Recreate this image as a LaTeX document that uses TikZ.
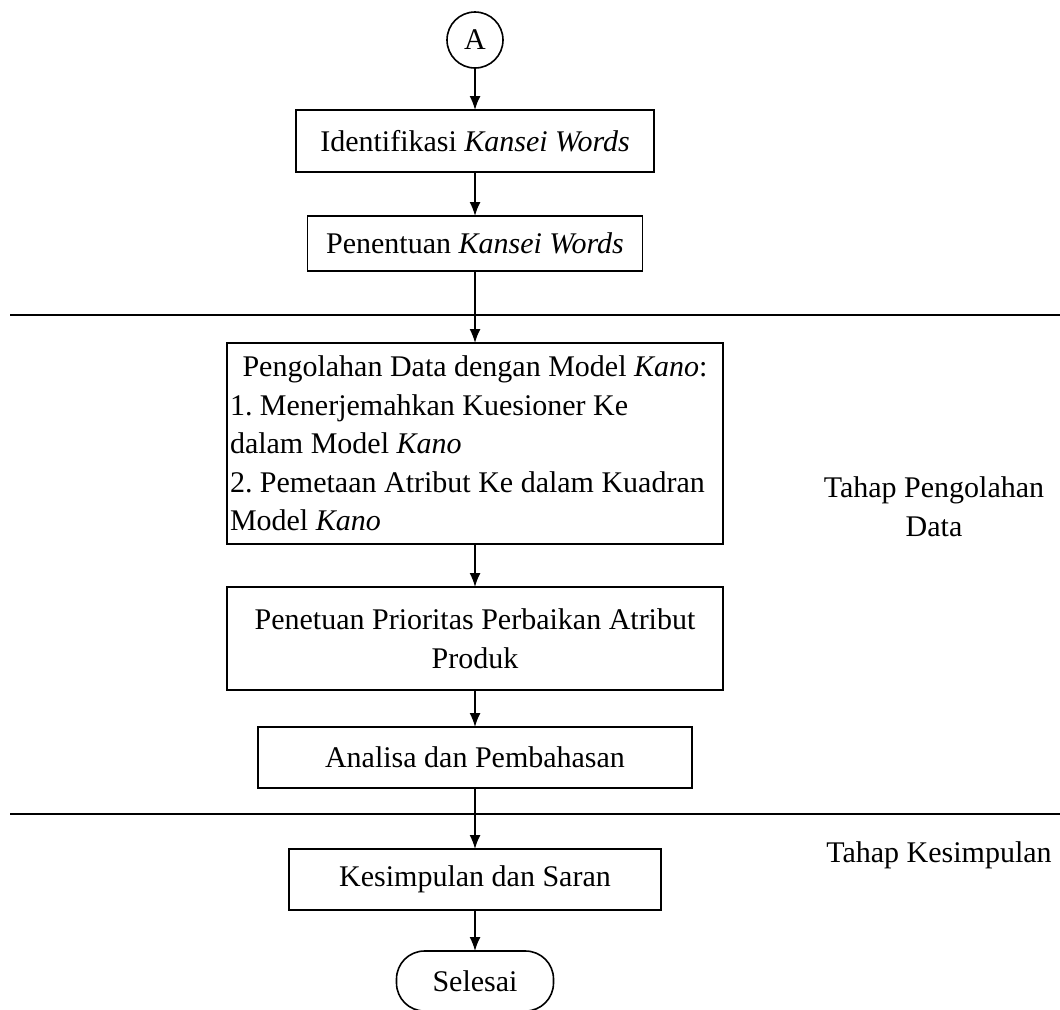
\documentclass[tikz,border=0pt]{standalone}
\usepackage{fontspec}
\setmainfont{Liberation Serif}
\usepackage{tikz}
\usetikzlibrary{positioning,arrows.meta}
\tikzset{main box/.style={rectangle,draw,line width=0.8pt,inner sep=2.5pt,outer sep=0pt,align=center},
	conn node/.style={circle,draw,line width=0.8pt,minimum size=28pt,inner sep=0pt,outer sep=0pt},
	end node/.style={rectangle,rounded corners=14pt,draw,line width=0.8pt,minimum width=78.5pt,minimum height=30pt,inner sep=0pt,outer sep=0pt},
	phase line/.style={line width=1.1pt},
	phase label/.style={align=center},
}

\begin{document}
\begin{tikzpicture}[font=\fontsize{15}{19.3}\selectfont\frenchspacing,>={Latex[length=7pt,width=5.5pt]}]
				\useasboundingbox (0,0) rectangle (530pt,-504.5pt);
				\node[conn node] (conA) at (237.5pt,-20pt) {A};
				\node[main box,minimum width=179pt,minimum height=31pt] (identifikasi) [below =21pt of conA] {Identifikasi \textit{Kansei Words}};
				\node[main box,minimum width=167.5pt,minimum height=27.5pt] (penentuan) [below =22pt of identifikasi] {Penentuan \textit{Kansei Words}};
				\node[main box,inner xsep=1.5pt,text width=245pt,minimum height=100.5pt,align=flush left] (pengolahan) [below =36pt of penentuan] {\makebox[245pt][c]{Pengolahan Data dengan Model \textit{Kano}:}\\1. Menerjemahkan Kuesioner Ke\\dalam Model \textit{Kano}\\2. Pemetaan Atribut Ke dalam Kuadran\\Model \textit{Kano}};
				\node[main box,minimum width=248pt,minimum height=51.5pt] (prioritas) [below =21.5pt of pengolahan] {Penetuan Prioritas Perbaikan Atribut\\Produk};
				\node[main box,minimum width=217pt,minimum height=30.5pt] (analisa) [below =18.5pt of prioritas] {Analisa dan Pembahasan};
				\node[main box,minimum width=186pt,minimum height=30.5pt] (kesimpulan) [below =30.5pt of analisa] {Kesimpulan dan Saran};
				\node[end node] (selesai) [below =20.5pt of kesimpulan] {Selesai};
				
				% phase borders and labels
				\coordinate (lineAL) at (5pt,-157.5pt);
				\coordinate (lineAR) at (530pt,-157.5pt);
				\coordinate (lineBL) at (5pt,-407pt);
				\coordinate (lineBR) at (530pt,-407pt);
				\draw[phase line] (lineAL) -- (lineAR);
				\draw[phase line] (lineBL) -- (lineBR);
				\node[phase label] (tahapolah) at (467pt,-253.25pt) {Tahap Pengolahan\\Data};
				\node[phase label] (tahapsimpul) at (469.5pt,-427.5pt) {Tahap Kesimpulan};
				
				\path[draw,line width=0.8pt,->]
				(conA) edge (identifikasi)
				(identifikasi) edge (penentuan)
				(penentuan) edge (pengolahan)
				(pengolahan) edge (prioritas)
				(prioritas) edge (analisa)
				(analisa) edge (kesimpulan)
				(kesimpulan) edge (selesai);
				
			\end{tikzpicture}
\end{document}
